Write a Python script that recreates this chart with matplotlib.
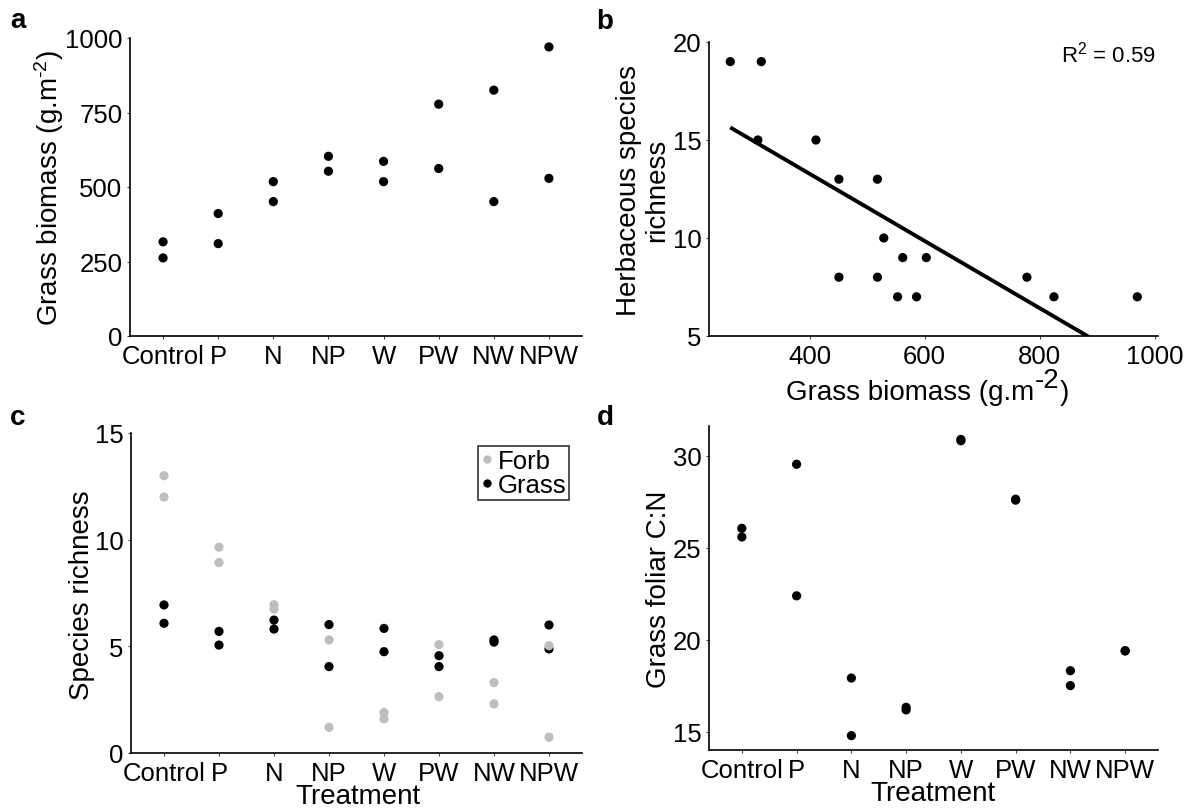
import numpy as np
import matplotlib
matplotlib.use('Agg')
import matplotlib.pyplot as plt
from matplotlib.lines import Line2D

plt.rcParams['font.family'] = ['Liberation Sans', 'DejaVu Sans']
plt.rcParams['mathtext.fontset'] = 'custom'
plt.rcParams['mathtext.rm'] = 'Liberation Sans'
plt.rcParams['mathtext.it'] = 'Liberation Sans:italic'
plt.rcParams['mathtext.bf'] = 'Liberation Sans:bold'

# --- datos ---
treatments = ['Control', 'P', 'N', 'NP', 'W', 'PW', 'NW', 'NPW']

# a: biomasa de gramíneas (dos réplicas por tratamiento)
biomass_rep1 = [316, 411, 518, 603, 586, 778, 825, 970]
biomass_rep2 = [262, 310, 451, 553, 518, 562, 451, 529]

# b: riqueza herbácea de las mismas parcelas
richness_rep1 = [19, 15, 13, 9, 7, 8, 7, 7]
richness_rep2 = [19, 15, 13, 7, 8, 9, 8, 10]

# c: riqueza de especies por grupo
forb_rep1 = [13.0, 9.65, 6.95, 5.3, 1.9, 5.08, 3.3, 5.03]
forb_rep2 = [12.0, 8.93, 6.75, 1.2, 1.6, 2.64, 2.3, 0.74]
grass_rep1 = [6.94, 5.7, 6.23, 6.02, 5.84, 4.56, 5.3, 6.0]
grass_rep2 = [6.08, 5.06, 5.81, 4.05, 4.75, 4.05, 5.2, 4.88]

# d: C:N foliar de gramíneas
cn_rep1 = [26.07, 29.55, 17.93, 16.34, 30.83, 27.6, 18.33, 19.42]
cn_rep2 = [25.6, 22.4, 14.8, 16.2, 30.9, 27.65, 17.52, 19.4]

FORB = '#bebebe'
PT = 44
TICK_FS = 18.5
LAB_FS = 20

W, H = 1196, 812
fig = plt.figure(figsize=(W / 100, H / 100), dpi=100)


def px_axes(l, t, r, b):
    return fig.add_axes([l / W, 1 - b / H, (r - l) / W, (b - t) / H])


def style(ax):
    for s in ['top', 'right']:
        ax.spines[s].set_visible(False)
    for s in ['left', 'bottom']:
        ax.spines[s].set_linewidth(1.2)
        ax.spines[s].set_color('black')
    ax.tick_params(direction='out', length=2.5, width=0.8, color='#444444',
                   labelsize=TICK_FS, labelcolor='black', pad=3)


def ftext(x, y, s, **kw):
    kw.setdefault('ha', 'center')
    kw.setdefault('va', 'center')
    return fig.text(x / W, 1 - y / H, s, **kw)


x = np.arange(len(treatments))

# --- a ---
ax = px_axes(130, 39, 582, 337)
ax.scatter(x, biomass_rep1, s=PT, c='black', edgecolors='none')
ax.scatter(x, biomass_rep2, s=PT, c='black', edgecolors='none')
ax.set_xlim(-0.6, 7.6)
ax.set_ylim(0, 1000)
ax.set_yticks([0, 250, 500, 750, 1000])
ax.set_xticks(x)
ax.set_xticklabels(treatments)
style(ax)
ftext(49, 188, r'Grass biomass (g.m$^{\text{-2}}$)', rotation=90, fontsize=LAB_FS)
ftext(18, 21, 'a', fontsize=20, fontweight='bold')

# --- b ---
ax = px_axes(709, 43, 1158, 337)
bx = np.array(biomass_rep1 + biomass_rep2)
by = np.array(richness_rep1 + richness_rep2)
ax.scatter(bx, by, s=PT, c='black', edgecolors='none')
coef = np.polyfit(bx, by, 1)
xl = np.array([bx.min(), bx.max()])
ax.plot(xl, np.polyval(coef, xl), color='black', lw=2.8, solid_capstyle='butt')
ax.set_xlim(225, 1006)
ax.set_ylim(5, 20)
ax.set_xticks([400, 600, 800, 1000])
ax.set_yticks([5, 10, 15, 20])
style(ax)
ftext(643, 190, 'Herbaceous species\nrichness', rotation=90, fontsize=LAB_FS,
      linespacing=1.1)
# etiqueta x con superíndice grande, como en el original
t1 = ftext(786, 400, 'Grass biomass (g.m', fontsize=LAB_FS, ha='left', va='baseline')
t2 = ax.annotate('-2', xy=(1, 0), xycoords=t1, xytext=(0.5, 9),
                 textcoords='offset points', fontsize=LAB_FS, ha='left', va='bottom',
                 annotation_clip=False)
ax.annotate(')', xy=(1, 0), xycoords=(t2, t1), xytext=(0.5, 0),
            textcoords='offset points', fontsize=LAB_FS, ha='left', va='bottom',
            annotation_clip=False)
ftext(1108, 55, 'R$^{2}$ = 0.59', fontsize=16)
ftext(605, 22, 'b', fontsize=20, fontweight='bold')

# --- c ---
ax = px_axes(131, 434, 582, 754)
for g in (grass_rep1, grass_rep2):
    ax.scatter(x, g, s=PT, c='black', edgecolors='none', zorder=2)
for f in (forb_rep1, forb_rep2):
    ax.scatter(x, f, s=PT, c=FORB, edgecolors='none', zorder=3)
ax.set_xlim(-0.6, 7.6)
ax.set_ylim(0, 15)
ax.set_yticks([0, 5, 10, 15])
ax.set_xticks(x)
ax.set_xticklabels(treatments)
style(ax)
handles = [Line2D([], [], ls='none', marker='o', ms=5, color=FORB, label='Forb'),
           Line2D([], [], ls='none', marker='o', ms=5, color='black', label='Grass')]
leg = ax.legend(handles=handles, loc='upper right', bbox_to_anchor=(0.971, 0.959),
                borderaxespad=0, fontsize=18.5, frameon=True, fancybox=False,
                handlelength=0.45, handletextpad=0.2, borderpad=0.1,
                labelspacing=0.02)
leg.get_frame().set_edgecolor('black')
leg.get_frame().set_linewidth(1.2)
ftext(82, 595, 'Species richness', rotation=90, fontsize=LAB_FS)
ftext(358, 797, 'Treatment', fontsize=LAB_FS)
ftext(18, 418, 'c', fontsize=20, fontweight='bold')

# --- d ---
ax = px_axes(709, 427, 1158, 751)
ax.scatter(x, cn_rep1, s=PT, c='black', edgecolors='none')
ax.scatter(x, cn_rep2, s=PT, c='black', edgecolors='none')
ax.set_xlim(-0.6, 7.6)
ax.set_ylim(14.02, 31.63)
ax.set_yticks([15, 20, 25, 30])
ax.set_xticks(x)
ax.set_xticklabels(treatments)
style(ax)
ftext(659, 589, 'Grass foliar C:N', rotation=90, fontsize=LAB_FS)
ftext(933, 794, 'Treatment', fontsize=LAB_FS)
ftext(605, 418, 'd', fontsize=20, fontweight='bold')

fig.savefig('out.png', dpi=100)
